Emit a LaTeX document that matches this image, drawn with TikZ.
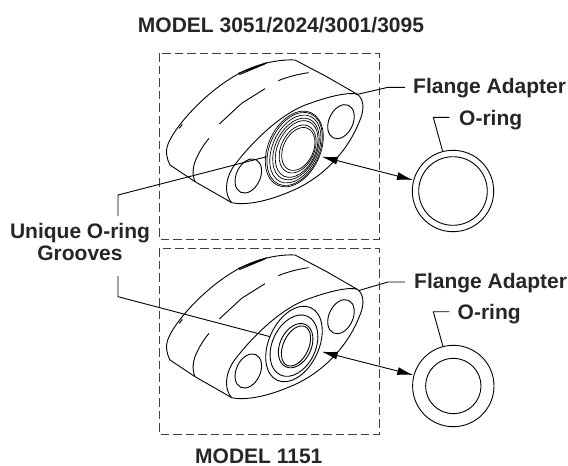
\documentclass[tikz,border=0pt]{standalone}
\usepackage{fontspec}
\setmainfont{Liberation Sans}
\usetikzlibrary{arrows.meta,calc}
\tikzset{
  lbl/.style={font=\fontsize{21}{21.5}\selectfont\bfseries,text=black!85,inner sep=0pt,align=center},
  ln/.style={draw=black,line width=0.9pt,line join=round},
  thin ring/.style={draw=black,line width=0.7pt},
  frame/.style={draw=black!75,line width=0.9pt,dash pattern=on 8.5pt off 4pt},
  dbl/.style={ln,{Latex[length=16pt,width=8pt]}-{Latex[length=16pt,width=8pt]}},
  ringnode/.style={draw,line width=0.9pt,circle,inner sep=0pt},
}
\newcommand{\flangebody}{%
  \draw[ln] (245,488) .. controls (225,465) and (222,425) .. (250,380) .. controls (310,300) and (400,215) .. (480,190) .. controls (540,168) and (600,155) .. (622,163) .. controls (640,175) and (645,205) .. (630,240) .. controls (600,320) and (530,410) .. (420,455) .. controls (350,485) and (285,497) .. (245,488);
  \draw[ln] (245,488) -- (135,425) -- (60,375) .. controls (50,355) and (45,335) .. (55,310) .. controls (80,250) and (190,130) .. (300,85) .. controls (350,65) and (400,58) .. (435,60) -- (530,110) -- (622,163);
  \draw[ln] (265,100) -- (350,68) (268,104) -- (345,72);
  \draw[ln] (88,265) -- (97,253);
  \draw[ln] (208,252) -- (275,190) -- (345,146);
  \draw[ln] (385,122) .. controls (410,112) and (440,103) .. (476,98);
  \draw[ln] (135,425) .. controls (125,400) and (130,380) .. (135,365) .. controls (145,340) and (160,315) .. (177,295);
  \draw[ln,rotate around={-25:(573,245)}] (573,245) ellipse (36 and 54);
  \draw[ln,rotate around={-25:(295,408)}] (295,408) ellipse (36 and 54);
}
\begin{document}
\begin{tikzpicture}[x=1pt,y=-1pt]
\useasboundingbox (0,0) rectangle (568,466);
\node[lbl] (ttop) at (281,25) {MODEL 3051/2024/3001/3095};
\node[lbl,anchor=west] (tbot) at (195,456) {MODEL 1151};
\node[lbl] (grv) at (80,242) {Unique O-ring\\Grooves};
\node[lbl,anchor=west] (fa1) at (413,88) {Flange Adapter};
\node[lbl,anchor=west] (or1) at (459,120) {O-ring};
\node[lbl,anchor=west] (fa2) at (414,283) {Flange Adapter};
\node[lbl,anchor=west] (or2) at (457.5,314) {O-ring};
\coordinate (g1) at (118,216);
\coordinate (g2) at (118,276);
\draw[frame] (159.3,53.3) rectangle (379,239.3);
\draw[frame] (159.3,248) rectangle (379,434.3);
% top flange
\begin{scope}[shift={(150,40)},x=0.3333pt,y=-0.3333pt]
  \flangebody
  \draw[thin ring,rotate around={-25:(433,327)}] (433,327) ellipse (78 and 120);
  \draw[thin ring,rotate around={-25:(434,327)}] (434,327) ellipse (74 and 116);
  \draw[thin ring,rotate around={-25:(436,327)}] (436,327) ellipse (68 and 108);
  \draw[thin ring,rotate around={-25:(438,327)}] (438,327) ellipse (62 and 98);
  \draw[thin ring,rotate around={-25:(440,327)}] (440,327) ellipse (57 and 90);
  \draw[thin ring,rotate around={-25:(443,327)}] (443,327) ellipse (50 and 76);
  \draw[thin ring,rotate around={-25:(445,327)}] (445,327) ellipse (45 and 68);
  \coordinate (t1) at (350,350);
  \coordinate (t2) at (515,350);
  \coordinate (t3) at (622,163);
\end{scope}
% bottom flange
\begin{scope}[shift={(150,235)},x=0.3333pt,y=-0.3333pt]
  \flangebody
  \draw[ln,rotate around={-25:(432,327)}] (432,327) ellipse (75 and 120);
  \draw[ln,rotate around={-25:(432,332)}] (432,332) ellipse (65 and 97);
  \draw[ln,rotate around={-25:(437,332)}] (437,332) ellipse (47 and 70);
  \draw[ln,rotate around={-25:(438,333)}] (438,333) ellipse (38 and 64);
  \coordinate (b1) at (360,305);
  \coordinate (b2) at (515,350);
  \coordinate (b3) at (625,167);
\end{scope}
% O-rings
\node[ringnode,minimum size=81.4pt] (r1o) at (453,191) {};
\node[ringnode,minimum size=68.6pt] (r1i) at (453,191) {};
\node[ringnode,minimum size=81.4pt] (r2o) at (453.3,386) {};
\node[ringnode,minimum size=55.4pt] (r2i) at (453.3,386) {};
% leaders
\draw[ln] (g1) -- (118,195) -- (t1);
\draw[ln] (g2) -- (118,296.7) -- (b1);
\draw[ln] (405,87.3) -- (388,87.3) -- (t3);
\draw[ln] (405,282) -- (388,282) -- (b3);
\draw[ln] (449.3,117.3) -- (433.3,117.3) -- ($(r1o.center)+(-10.3,-39.5)$);
\draw[ln] (449.3,311.7) -- (433.3,311.7) -- ($(r2o.center)+(-10.3,-39.5)$);
\draw[dbl] (t2) -- (413,180);
\draw[dbl] (b2) -- (413.3,375);
\end{tikzpicture}
\end{document}
